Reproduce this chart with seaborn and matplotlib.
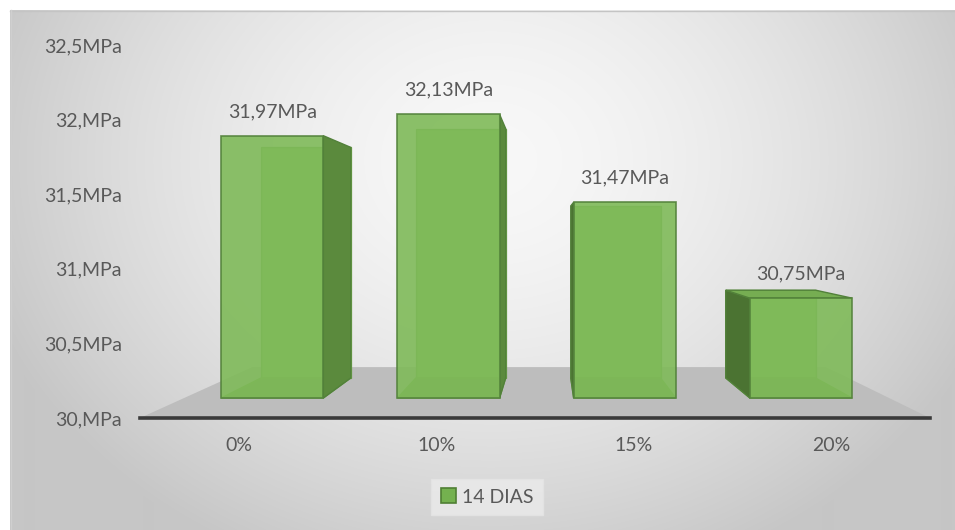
import numpy as np
import pandas as pd
import matplotlib
matplotlib.use("Agg")
import matplotlib.pyplot as plt
from matplotlib.patches import Polygon, Patch
import seaborn as sns

# --- data -------------------------------------------------------------
categorias = ["0%", "10%", "15%", "20%"]
resistencia = [31.97, 32.13, 31.47, 30.75]
serie = "14 DIAS"
ticks_y = [30.0, 30.5, 31.0, 31.5, 32.0, 32.5]


def fmt_mpa(v, casas=None):
    if casas is not None:
        s = f"{v:.{casas}f}"
    elif float(v).is_integer():
        s = f"{int(v)}."
    else:
        s = f"{v:.1f}"
    return s.replace(".", ",") + "MPa"


rotulos_y = [fmt_mpa(v) for v in ticks_y]

# --- style ------------------------------------------------------------
plt.rcParams["font.family"] = ["Lato", "DejaVu Sans"]
COR_TEXTO = "#595959"
VERDE_FRENTE = "#7fba59"
VERDE_LADO_D = "#5b8a3d"
VERDE_LADO_E = "#4b7332"
VERDE_TOPO = "#76ad52"
VERDE_BORDA = "#52813a"
FS = 14

W, H = 955, 530
fig = plt.figure(figsize=(W / 100, H / 100), dpi=100)

# soft grey background panel
bg = fig.add_axes([0, 0, 1, 1], zorder=0)
bg.set_xlim(0, W)
bg.set_ylim(H, 0)
bg.axis("off")
ph, pw = 520, 945
yy, xx = np.mgrid[0:ph, 0:pw]
d = np.sqrt(((xx - 480) / 520) ** 2 + ((yy - 150) / 430) ** 2)
g = np.clip(248 - 48 * d ** 1.6, 198, 250) / 255
bg.imshow(np.dstack([g, g, g]), extent=(10, W, H, 10), aspect="auto",
          interpolation="bilinear")
bg.plot([10, W], [10.5, 10.5], color="#c4c4c4", lw=1)
bg.plot([10.5, 10.5], [10, H], color="#cfcfcf", lw=1)

# main axes: floor-front plane
ax = fig.add_axes([140 / W, (H - 418) / H, 790 / W, (418 - 45) / H], zorder=1)
ax.set_facecolor("none")

df = pd.DataFrame({"concentracao": categorias, "resistencia": resistencia})
sns.barplot(data=df, x="concentracao", y="resistencia", ax=ax,
            color=VERDE_FRENTE, width=0.58, saturation=1)

ax.set_xlim(-0.5, 3.5)
ax.set_ylim(30, 32.5)

# perspective projection of the 3D box onto the chart plane
VP = (1.576, 31.245)
S_FRENTE, S_FUNDO, S_PISO = 0.8925, 0.7845, 0.726
BASE = 30.0


def proj(x, y, s):
    return (VP[0] + s * (x - VP[0]), VP[1] + s * (y - VP[1]))


# floor
piso = [proj(-0.5, BASE, 1), proj(3.5, BASE, 1),
        proj(3.5, BASE, S_PISO), proj(-0.5, BASE, S_PISO)]
ax.add_patch(Polygon(piso, closed=True, facecolor="#bdbdbd", edgecolor="none",
                     zorder=1))

for patch, valor in zip(list(ax.patches)[:len(resistencia)], resistencia):
    x0 = patch.get_x()
    x1 = x0 + patch.get_width()
    y1 = patch.get_y() + patch.get_height()

    def face(pts, fc, z, alpha=1.0, lw=1.0, ec=VERDE_BORDA):
        ax.add_patch(Polygon(pts, closed=True, facecolor=fc, edgecolor=ec,
                             lw=lw, alpha=alpha, zorder=z))

    # faces behind the glass
    face([proj(x0, BASE, S_FUNDO), proj(x1, BASE, S_FUNDO),
          proj(x1, y1, S_FUNDO), proj(x0, y1, S_FUNDO)], VERDE_FRENTE, 2,
         lw=0.9, ec="#6a9f48")
    face([proj(x0, BASE, S_FRENTE), proj(x1, BASE, S_FRENTE),
          proj(x1, BASE, S_FUNDO), proj(x0, BASE, S_FUNDO)], "#6f9c52", 2,
         lw=0.9, ec="#6a9f48")
    # visible side faces
    if x1 < VP[0]:
        face([proj(x1, BASE, S_FRENTE), proj(x1, y1, S_FRENTE),
              proj(x1, y1, S_FUNDO), proj(x1, BASE, S_FUNDO)], VERDE_LADO_D, 3)
    if x0 > VP[0]:
        face([proj(x0, BASE, S_FRENTE), proj(x0, y1, S_FRENTE),
              proj(x0, y1, S_FUNDO), proj(x0, BASE, S_FUNDO)], VERDE_LADO_E, 3)
    if y1 < VP[1]:
        face([proj(x0, y1, S_FRENTE), proj(x1, y1, S_FRENTE),
              proj(x1, y1, S_FUNDO), proj(x0, y1, S_FUNDO)], VERDE_TOPO, 3)

    # front face: the seaborn bar itself, moved to its depth plane
    fx0, fy0 = proj(x0, BASE, S_FRENTE)
    fx1, fy1 = proj(x1, y1, S_FRENTE)
    patch.set_x(fx0)
    patch.set_width(fx1 - fx0)
    patch.set_y(fy0)
    patch.set_height(fy1 - fy0)
    patch.set_facecolor(VERDE_FRENTE)
    patch.set_alpha(0.9)
    patch.set_edgecolor(VERDE_BORDA)
    patch.set_linewidth(1.2)
    patch.set_zorder(4)

    ax.annotate(fmt_mpa(valor, 2), xy=((fx0 + fx1) / 2, fy1), xytext=(0, 17.5),
                textcoords="offset points", ha="center", va="center",
                fontsize=FS, color=COR_TEXTO, zorder=6)

# axes and ticks
for s in ["left", "top", "right"]:
    ax.spines[s].set_visible(False)
ax.spines["bottom"].set_color("#3a3a3a")
ax.spines["bottom"].set_linewidth(2.6)
ax.spines["bottom"].set_zorder(5)
ax.set_yticks(ticks_y)
ax.set_yticklabels(rotulos_y)
ax.tick_params(axis="y", length=0, pad=13, labelsize=FS, labelcolor=COR_TEXTO)
ax.tick_params(axis="x", length=0, pad=14, labelsize=FS, labelcolor=COR_TEXTO)
ax.set_xlabel("")
ax.set_ylabel("")

# legend
handle = Patch(facecolor="#74b14f", edgecolor="#4f7f34", lw=1.2)
leg = ax.legend([handle], [serie], loc="center",
                bbox_to_anchor=(487 / W, 1 - 497 / H),
                bbox_transform=fig.transFigure, fontsize=FS,
                handlelength=0.8, handleheight=0.8, handletextpad=0.3,
                borderpad=0.5, frameon=True, fancybox=False)
leg.get_frame().set_facecolor("#ebebeb")
leg.get_frame().set_edgecolor("#e4e4e4")
for t in leg.get_texts():
    t.set_color(COR_TEXTO)

fig.savefig("out.png", dpi=100)
